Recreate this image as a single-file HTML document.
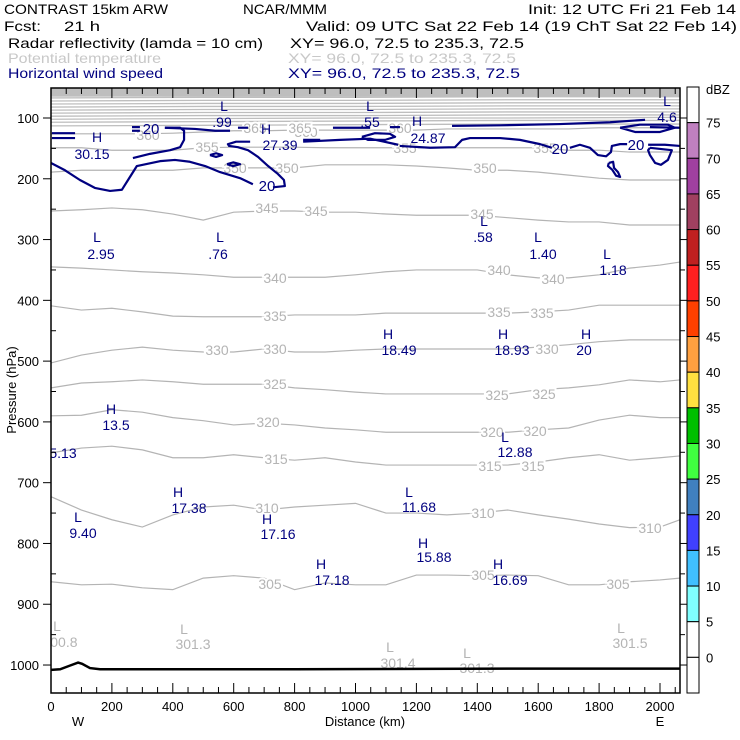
<!DOCTYPE html>
<html><head><meta charset="utf-8"><style>
body{margin:0;background:#fff;}
svg{display:block;font-family:"Liberation Sans",sans-serif;}
</style></head><body>
<svg id="chart" width="740" height="740" viewBox="0 0 740 740">
<g font-size="14" fill="#000">
<text x="4" y="14" textLength="164" lengthAdjust="spacingAndGlyphs">CONTRAST 15km ARW</text>
<text x="243" y="14" textLength="84" lengthAdjust="spacingAndGlyphs">NCAR/MMM</text>
<text x="528" y="14" textLength="208" lengthAdjust="spacingAndGlyphs">Init: 12 UTC Fri 21 Feb 14</text>
<text x="4" y="31" textLength="37" lengthAdjust="spacingAndGlyphs">Fcst:</text>
<text x="64" y="31" textLength="36" lengthAdjust="spacingAndGlyphs">21 h</text>
<text x="306" y="31" textLength="431" lengthAdjust="spacingAndGlyphs">Valid: 09 UTC Sat 22 Feb 14 (19 ChT Sat 22 Feb 14)</text>
<text x="8" y="48" textLength="255" lengthAdjust="spacingAndGlyphs">Radar reflectivity (lamda = 10 cm)</text>
<text x="290" y="48" textLength="234" lengthAdjust="spacingAndGlyphs">XY=  96.0, 72.5 to 235.3, 72.5</text>
<text x="8" y="63" fill="#c8c8c8" textLength="153" lengthAdjust="spacingAndGlyphs">Potential temperature</text>
<text x="288" y="63" fill="#c8c8c8" textLength="228" lengthAdjust="spacingAndGlyphs">XY=  96.0, 72.5 to 235.3, 72.5</text>
<text x="8" y="78" fill="#000080" textLength="155" lengthAdjust="spacingAndGlyphs">Horizontal wind speed</text>
<text x="288" y="78" fill="#000080" textLength="232" lengthAdjust="spacingAndGlyphs">XY=  96.0, 72.5 to 235.3, 72.5</text>
</g>
<defs><clipPath id="plotclip"><rect x="51" y="88" width="629" height="605"/></clipPath></defs>
<g id="plot" clip-path="url(#plotclip)"></g>
<g id="axes"></g>
<g id="cbar"></g>
</svg>
<script>
const xsKm=[0,100,200,300,400,500,600,700,800,900,1000,1100,1200,1300,1400,1500,1600,1700,1800,1900,2000,2065];
const thetaLevels=[305,310,315,320,325,330,335,340,345,350,355,360];
const th305=[863,868,867,873,876,857,853,857,876,865,868,868,852,852,853,852,853,868,868,863,860,857];
const th310=[723,745,761,773,753,740,737,745,740,737,734,750,750,753,750,745,753,760,768,774,773,761];
const th315=[651,643,640,646,659,659,654,659,663,659,666,671,671,671,671,671,666,659,654,663,659,656];
const th320=[590,589,580,584,593,598,605,602,605,610,613,617,617,617,617,617,613,610,597,589,593,593];
const th325=[544,536,534,531,534,538,538,538,544,547,551,554,554,554,554,554,547,544,539,531,534,531];
const th330=[503,490,482,477,482,485,485,480,485,485,482,480,480,480,480,480,477,473,468,465,465,465];
const th335=[409,416,413,419,426,427,427,427,424,424,424,421,421,421,421,421,419,416,408,408,408,408];
const th340=[345,347,350,353,355,358,362,362,362,362,358,353,350,350,350,358,363,363,358,347,342,337];
const th345=[253,251,248,251,258,268,255,253,253,255,255,258,260,260,260,264,268,271,271,276,276,276];
const th350=[189,186,186,186,186,182,182,182,182,177,177,177,179,182,186,186,189,194,199,202,202,202];
const th355=[149,149,153,153,153,149,148,148,148,149,149,149,149,149,149,149,149,153,153,156,156,156];
const th360=[126,126,126,126,125,123,121,121,120,120,120,120,120,118,118,118,118,118,116,116,116,116];
const thetaSeries=[th305,th310,th315,th320,th325,th330,th335,th340,th345,th350,th355,th360];
const xsUpper=[0,500,1000,1500,2065];
const upperLevels=[365,370,375,380,385,390,395,400,405,410];
const upperSeries=[[113,112,111,110,110],[107,106,105,104,104],[102,101,100,100,99],[97,96,96,95,95],[92,91,91,90,90],[87,86,86,85,85],[82,81,81,80,80],[77,76,76,75,75],[72,71,71,70,70],[67,66,66,65,65]];
const thetaLabels=[[305,270,584],[305,483,575],[305,618,584],[310,267,508],[310,483,513],[310,650,528],[315,276,459],[315,490,466],[315,533,466],[320,268,422],[320,492,432],[320,535,431],[325,275,384],[325,497,395],[325,544,394],[330,217,350],[330,275,349],[330,547,349],[335,275,316],[335,499,312],[335,542,313],[340,275,278],[340,499,270],[340,553,279],[345,267,208],[345,316,211],[345,482,214],[350,235,168],[350,287,168],[350,485,168],[355,207,147],[355,405,148],[355,545,148],[360,148,135],[360,306,132],[360,400,128],[365,255,128],[365,300,128]];
const groundKm=[0,30,62,89,102,128,161,300,800,1500,2065];
const groundP=[1008,1007,1001,996,998,1005,1007,1007,1007,1006,1006];
const windSegs=[
 [[0,174],[46,186],[95,202],[144,215],[194,220],[233,218],[253,202],[282,179],[358,171],[407,169],[456,172],[506,179],[555,189],[621,199],[663,209]],
 [[729,214],[768,212],[765,202],[745,192],[713,179],[680,164],[647,153],[614,148],[585,146],[581,143],[608,139],[654,139]],
 [[828,139],[949,136],[1048,134],[1140,144]],
 [[1146,146],[1245,149],[1327,148],[1350,136],[1376,133],[1475,133],[1540,136],[1606,143],[1645,149]],
 [[1704,149],[1737,144],[1770,149],[1796,161],[1823,163],[1839,156],[1842,146],[1869,143],[1892,143]],
 [[1961,144],[2016,144],[2066,146]],
 [[1967,149],[2039,153],[2026,169],[2003,177],[1984,174],[1967,161],[1961,153],[1967,149]],
 [[1832,174],[1846,172],[1849,182],[1862,189],[1869,197],[1856,195],[1843,185],[1829,179],[1832,174]],
 [[269,166],[325,159],[391,153],[424,148],[437,136],[437,121],[424,116],[374,116]],
 [[374,116],[473,118],[539,121],[588,121]],
 [[614,116],[647,116]],[[3,125],[79,125]],[[3,133],[79,133]],[[266,115],[292,115]],[[266,121],[292,121]],
 [[828,136],[884,136]],[[926,116],[1048,116]],
 [[1021,131],[1064,125],[1113,126],[1130,131],[1097,136],[1041,136],[1021,131]],
 [[1113,115],[1146,115]],
 [[1317,113],[1475,112],[1672,110],[1836,107],[1951,103]],
 [[1869,116],[1934,111],[2026,111],[2049,116],[2000,123],[1918,123],[1869,116]],
 [[1967,115],[2066,116]],
 [[522,161],[542,158],[562,161],[542,164],[522,161]],
 [[578,176],[598,173],[621,176],[598,179],[578,176]]
];
const windLabels=[["20",151,129],["20",267,186],["20",560,149],["20",636,145]];
const extrema=[["L",".99",224,106,222,122],["H","30.15",97,137,92,154],["H","27.39",266,129,280,145],["L",".55",370,106,370,122],["H","24.87",417,121,428,138],["L","4.6",667,101,667,117],["L","2.95",97,237,101,254],["L",".76",220,237,218,254],["L",".58",484,221,483,237],["L","1.40",538,237,543,254],["L","1.18",607,254,613,270],["H","18.49",388,334,399,350],["H","18.93",503,334,512,350],["H","20",586,334,584,350],["H","13.5",111,409,116,425],["","5.13",0,0,63,453],["L","12.88",505,437,515,452],["H","17.38",178,492,189,508],["L","11.68",409,492,419,507],["L","9.40",78,517,83,533],["H","17.16",267,519,278,534],["H","15.88",423,543,434,557],["H","17.18",321,564,332,580],["H","16.69",498,564,510,580]];
const grayExtrema=[["L","300.8",57,626,60,642],["L","301.3",184,629,193,644],["L","301.4",390,647,398,663],["L","301.3",467,653,477,668],["L","301.5",621,628,630,643]];
const xTicks=[0,200,400,600,800,1000,1200,1400,1600,1800,2000];
const yTicks=[100,200,300,400,500,600,700,800,900,1000];
const cbLevels=[75,70,65,60,55,50,45,40,35,30,25,20,15,10,5,0];
const cbColors=["#ffffff","#c080c0","#a040a0","#a04060","#c02020","#ff2020","#ff4000","#ffa040","#ffe040","#00c000","#40ff40","#4080c0","#4040ff","#40c0ff","#80ffff","#ffffff","#ffffff"];

const NS="http://www.w3.org/2000/svg";
const X=km=>51+km*0.3045;
const Y=p=>118+(p-100)*0.6078;
function mk(tag,parent,attrs){const e=document.createElementNS(NS,tag);for(const k in attrs)e.setAttribute(k,attrs[k]);parent.appendChild(e);return e;}
const plot=document.getElementById('plot'),axes=document.getElementById('axes'),cbar=document.getElementById('cbar');

let r=mk('rect',plot,{x:X(0),y:Y(40),width:X(2100)-X(0),height:Y(65)-Y(40),fill:'#bebebe'});


upperSeries.forEach((s,i)=>{
 const l=mk('polyline',plot,{points:s.map((p,j)=>X(xsUpper[j])+','+Y(p)).join(' '),fill:'none',stroke:'#bebebe','stroke-width':1.3});
 
 
});
thetaSeries.forEach((s,i)=>{
 const l=mk('polyline',plot,{points:s.map((p,j)=>X(xsKm[j])+','+Y(p)).join(' '),fill:'none',stroke:'#b4b4b4','stroke-width':1.2});
 
 
});
thetaLabels.forEach(t=>{
 const e=mk('text',plot,{x:t[1],y:t[2]+5,'text-anchor':'middle','font-size':14,fill:'#b4b4b4',stroke:'#fff','stroke-width':4,'paint-order':'stroke'});
 e.textContent=t[0];
 
 
});
grayExtrema.forEach(t=>{
 const a=mk('text',plot,{x:t[2],y:t[3]+5,'text-anchor':'middle','font-size':14,fill:'#b4b4b4'});a.textContent=t[0];
 
 
 const b=mk('text',plot,{x:t[4],y:t[5]+5,'text-anchor':'middle','font-size':14,fill:'#b4b4b4'});b.textContent=t[1];
 
 
});
const g=mk('polyline',plot,{points:groundKm.map((k,i)=>X(k)+','+Y(groundP[i])).join(' '),fill:'none',stroke:'#000','stroke-width':2.5});


windSegs.forEach(s=>{
 const l=mk('polyline',plot,{points:s.map(q=>X(q[0])+','+Y(q[1])).join(' '),fill:'none',stroke:'#000080','stroke-width':2.2,'stroke-linejoin':'round'});
 
 
});
windLabels.forEach(t=>{
 const e=mk('text',plot,{x:t[1],y:t[2]+5,'text-anchor':'middle','font-size':15,fill:'#000080'});e.textContent=t[0];
 
 
});
extrema.forEach(t=>{
 if(t[0]){const a=mk('text',plot,{x:t[2],y:t[3]+5,'text-anchor':'middle','font-size':14,fill:'#000080'});a.textContent=t[0];
 
 }
 const b=mk('text',plot,{x:t[4],y:t[5]+5,'text-anchor':'middle','font-size':14,fill:'#000080'});b.textContent=t[1];
 
 
});
const fr=mk('rect',axes,{x:51,y:88,width:629,height:605,fill:'none',stroke:'#000','stroke-width':1.5});


for(let k=0;k<=2050;k+=50){
 const len=(k%200===0)?10:6;
 const t1=mk('line',axes,{x1:X(k),x2:X(k),y1:693,y2:693-len,stroke:'#000','stroke-width':1});
 
 
 const t2=mk('line',axes,{x1:X(k),x2:X(k),y1:88,y2:88+len,stroke:'#000','stroke-width':1});
 
 
}
xTicks.forEach(k=>{
 const e=mk('text',axes,{x:X(k),y:711,'text-anchor':'middle','font-size':13});e.textContent=k;
 
 
});
for(let p=100;p<=1000;p+=50){
 const maj=p%100===0;
 const t=mk('line',axes,{x1:maj?43:51,x2:maj?51:56,y1:Y(p),y2:Y(p),stroke:'#000','stroke-width':1});
 
 
 const t2=mk('line',axes,{x1:680,x2:maj?690:685,y1:Y(p),y2:Y(p),stroke:'#000','stroke-width':1});
 
 
}
yTicks.forEach(p=>{
 const e=mk('text',axes,{x:39,y:Y(p)+5,'text-anchor':'end','font-size':13});e.textContent=p;
 
 
});
let e=mk('text',axes,{x:0,y:0,'text-anchor':'middle','font-size':13,transform:'translate(16,390) rotate(-90)'});e.textContent='Pressure (hPa)';


e=mk('text',axes,{x:365,y:726,'text-anchor':'middle','font-size':13});e.textContent='Distance (km)';


e=mk('text',axes,{x:78,y:726,'text-anchor':'middle','font-size':13});e.textContent='W';


e=mk('text',axes,{x:660,y:726,'text-anchor':'middle','font-size':13});e.textContent='E';


const cbTop=87,cbBin=(693-87)/cbColors.length;
cbColors.forEach((c,i)=>{
 const b=mk('rect',cbar,{x:687,y:cbTop+i*cbBin,width:12,height:cbBin,fill:c,stroke:'#000','stroke-width':1});
 
 
});
cbLevels.forEach((v,i)=>{
 const t=mk('text',cbar,{x:706,y:cbTop+(i+1)*cbBin+5,'font-size':13});t.textContent=v;
 
 
});
e=mk('text',cbar,{x:706,y:94,'font-size':13});e.textContent='dBZ';


</script>
</body></html>
